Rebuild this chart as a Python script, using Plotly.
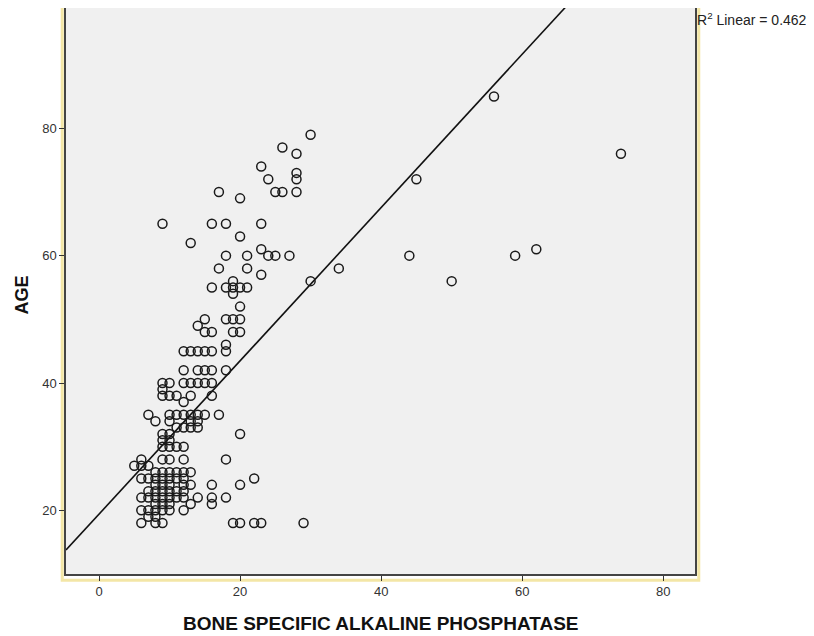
import plotly.graph_objects as go

# Bone specific alkaline phosphatase (x) and age (y)
bsap = [56, 74, 45, 44, 50, 59, 62, 34, 30, 30, 26, 28, 23, 28, 28, 24, 25, 26, 28, 20, 17,
        9, 16, 18, 23, 13, 20, 18, 21, 23, 24, 25, 27, 17, 21, 23, 19, 16, 18, 19, 20, 21, 19, 20,
        15, 18, 19, 20, 14, 15, 16, 19, 20, 18, 12, 13, 14, 15, 16, 18,
        12, 14, 15, 16, 18,
        9, 10, 12, 13, 14, 15, 16,
        9, 9, 10, 11, 13, 16, 12,
        7, 10, 11, 12, 13, 14, 15, 17,
        8, 10, 13, 14,
        11, 12, 13, 14,
        9, 10, 20,
        9, 10,
        9, 10, 11, 12,
        6, 9, 10, 12, 18,
        5, 6, 7,
        8, 9, 10, 11, 12, 13,
        6, 7, 8, 9, 10, 11, 12, 22,
        8, 9, 10, 12, 13, 16, 20,
        7, 8, 9, 10, 11, 12,
        6, 7, 8, 9, 10, 11, 12, 14, 16, 18,
        13, 16, 8, 9, 10,
        6, 7, 8, 9, 10, 12,
        7, 8,
        6, 8, 9, 19, 20, 22, 23, 29]
age = [85, 76, 72, 60, 56, 60, 61, 58, 56, 79, 77, 76, 74, 73, 72, 72, 70, 70, 70, 69, 70,
       65, 65, 65, 65, 62, 63, 60, 60, 61, 60, 60, 60, 58, 58, 57, 56, 55, 55, 55, 55, 55, 54, 52,
       50, 50, 50, 50, 49, 48, 48, 48, 48, 46, 45, 45, 45, 45, 45, 45,
       42, 42, 42, 42, 42,
       40, 40, 40, 40, 40, 40, 40,
       39, 38, 38, 38, 38, 38, 37,
       35, 35, 35, 35, 35, 35, 35, 35,
       34, 34, 34, 34,
       33, 33, 33, 33,
       32, 32, 32,
       31, 31,
       30, 30, 30, 30,
       28, 28, 28, 28, 28,
       27, 27, 27,
       26, 26, 26, 26, 26, 26,
       25, 25, 25, 25, 25, 25, 25, 25,
       24, 24, 24, 24, 24, 24, 24,
       23, 23, 23, 23, 23, 23,
       22, 22, 22, 22, 22, 22, 22, 22, 22, 22,
       21, 21, 21, 21, 21,
       20, 20, 20, 20, 20, 20,
       19, 19,
       18, 18, 18, 18, 18, 18, 18, 18]

# Fit line (as drawn in the picture) and axis settings
fit_intercept = 19.4
fit_slope = 1.204
r2_text = "R<sup>2</sup> Linear = 0.462"
x_title = "<b>BONE SPECIFIC ALKALINE PHOSPHATASE</b>"
y_title = "<b>AGE</b>"
x_range = [-4.68, 84.5]
y_range = [10.0, 98.9]
x_ticks = [0, 20, 40, 60, 80]
y_ticks = [20, 40, 60, 80]

fit_x = [x_range[0], x_range[1]]
fit_y = [fit_intercept + fit_slope * v for v in fit_x]

fig = go.Figure()
fig.add_trace(go.Scatter(
    x=fit_x, y=fit_y, mode="lines",
    line=dict(color="#111111", width=1.6),
    hoverinfo="skip", showlegend=False))
fig.add_trace(go.Scatter(
    x=bsap, y=age, mode="markers",
    marker=dict(symbol="circle-open", size=9, color="#1a1a1a",
                line=dict(width=1.5, color="#1a1a1a")),
    showlegend=False))

# page body has an 8px margin, so the figure is sized to fit inside the window
fig.update_layout(
    width=806, height=628,
    margin=dict(l=58, r=119, t=0, b=62),
    paper_bgcolor="white",
    plot_bgcolor="#f0f0f0",
    font=dict(family="Liberation Sans, Arial, sans-serif", size=13, color="#333333"),
    xaxis=dict(
        range=x_range, tickvals=x_ticks, ticks="outside", ticklen=5, tickcolor="#333",
        showgrid=False, zeroline=False, showline=True, linecolor="#444", linewidth=1.5,
        mirror=True, automargin=False,
        tickfont=dict(size=13, color="#333")),
    yaxis=dict(
        range=y_range, tickvals=y_ticks, ticks="outside", ticklen=5, tickcolor="#333",
        showgrid=False, zeroline=False, showline=True, linecolor="#444", linewidth=1.5,
        mirror=True, automargin=False,
        tickfont=dict(size=13, color="#333")),
)

# pale yellow frame around the chart area
fig.add_shape(type="rect", xref="paper", yref="paper",
              x0=-0.006, x1=1.006, y0=-0.011, y1=1.02,
              line=dict(color="#f3e6a6", width=3), fillcolor="rgba(0,0,0,0)", layer="below")

# axis titles
fig.add_annotation(xref="paper", yref="paper", x=0.5, y=0, xanchor="center", yanchor="middle",
                   yshift=-49, text=x_title, showarrow=False,
                   font=dict(size=19, color="#111"))
fig.add_annotation(xref="paper", yref="paper", x=0, y=0.492, xanchor="center", yanchor="middle",
                   xshift=-44, textangle=-90, text=y_title, showarrow=False,
                   font=dict(size=18, color="#111"))

fig.add_annotation(xref="paper", yref="paper", x=1.0, y=1.0, xanchor="left", yanchor="top",
                   text=r2_text, showarrow=False, xshift=0, yshift=0,
                   font=dict(size=14, color="#222"))

fig.write_html("out.html")
